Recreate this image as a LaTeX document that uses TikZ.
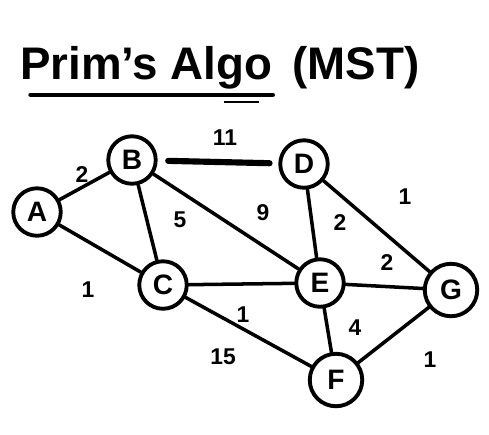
\documentclass[tikz,border=0pt]{standalone}
\usepackage{fontspec}
\setmainfont{Liberation Sans}
\usepackage{tikz}
\usetikzlibrary{arrows.meta,positioning,calc}

\begin{document}
\begin{tikzpicture}[
  x=0.02cm, y=-0.02cm,
  every node/.style={font=\bfseries},
  vertex/.style={draw, circle, line width=2.2pt, minimum size=0.95cm,
    inner sep=0pt, fill=white, font=\fontsize{16}{18}\selectfont\bfseries},
  big/.style={vertex, minimum size=1.05cm},
  edge/.style={line width=2pt, line cap=round},
  wt/.style={font=\fontsize{13}{15}\selectfont\bfseries, inner sep=1pt},
  head/.style={font=\fontsize{26}{30}\selectfont\bfseries, inner sep=0pt, anchor=base west}
]
\useasboundingbox (0,0) rectangle (489,434);

\node[head] (title) at (20,79) {Prim's Algo};
\node[head] (mst) at (292,79) {(MST)};
\draw[line width=2.5pt, line cap=round] ([yshift=-9pt,xshift=6pt]title.base west) -- ([yshift=-9pt]title.base east);
\draw[line width=1.5pt] ([yshift=-13pt,xshift=-28pt]title.base east) -- ([yshift=-13pt,xshift=-8pt]title.base east);

\node[vertex] (a) at (37,212) {A};
\node[vertex] (b) at (132,160) {B};
\node[vertex] (c) at (163,285) {C};
\node[vertex] (d) at (304,164) {D};
\node[vertex] (e) at (320,283) {E};
\node[big] (g) at (451,290) {G};
\node[big] (f) at (336,380) {F};

\draw[edge] (a) -- (b);
\draw[edge] (a) -- (c);
\draw[edge] (b) -- (c);
\draw[line width=3.5pt, line cap=round, shorten <=6pt, shorten >=5pt] (b) -- (d);
\draw[edge] (b) -- (e);
\draw[edge] (d) -- (e);
\draw[edge] (d) -- (g);
\draw[edge] (c) -- (e);
\draw[edge] (c) -- (f);
\draw[edge] (e) -- (g);
\draw[edge] (e) -- (f);
\draw[edge] (f) -- (g);

\node[wt] (wab) at (82,175) {2};
\node[wt] (wac) at (88,290) {1};
\node[wt] (wbc) at (180,220) {5};
\node[wt] (wbd) at (225,138) {11};
\node[wt] (wbe) at (263,213) {9};
\node[wt] (wde) at (340,223) {2};
\node[wt] (wdg) at (405,197) {1};
\node[wt] (wce) at (243,315) {1};
\node[wt] (wcf) at (223,357) {15};
\node[wt] (weg) at (387,263) {2};
\node[wt] (wef) at (355,328) {4};
\node[wt] (wfg) at (430,360) {1};
\end{tikzpicture}
\end{document}
